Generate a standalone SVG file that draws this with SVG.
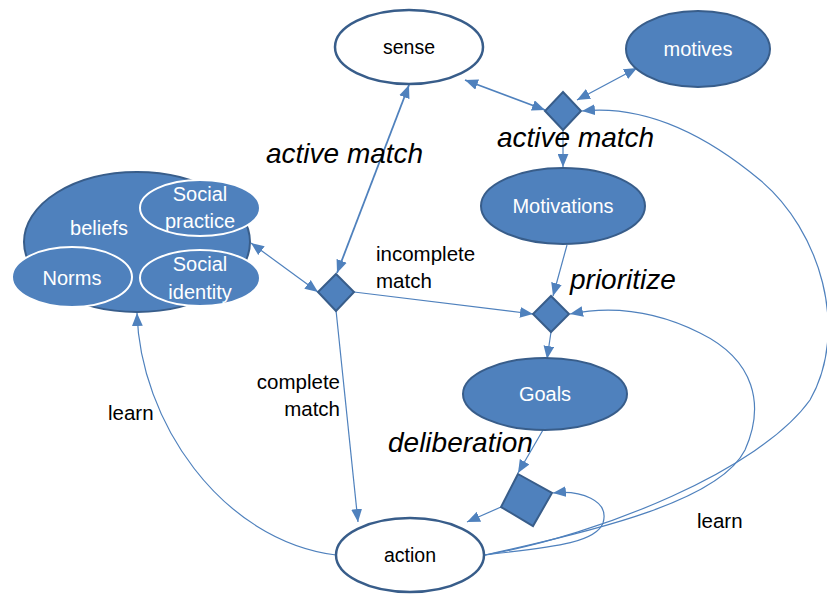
<svg xmlns="http://www.w3.org/2000/svg" width="827" height="595" viewBox="0 0 827 595">
  <style>
    .lbl { font-family: "Liberation Sans", Arial, sans-serif; font-size: 20.5px; fill: #000; }
    .wt { font-family: "Liberation Sans", Arial, sans-serif; font-size: 20px; fill: #fff; text-anchor: middle; }
    .bk { font-family: "Liberation Sans", Arial, sans-serif; font-size: 19.5px; fill: #000; text-anchor: middle; }
    .it { font-family: "Liberation Sans", Arial, sans-serif; font-size: 28px; font-style: italic; fill: #000; }
    .filled { fill: #4F81BD; stroke: #385D8A; stroke-width: 2; }
    .open { fill: #fff; stroke: #385D8A; stroke-width: 2.5; }
    .inner { fill: #4F81BD; stroke: #fff; stroke-width: 2; }
    .con { fill: none; stroke: #4F81BD; stroke-width: 1.2; }
    .thick { stroke-width: 1.8; }
  </style>
  <defs>
    <marker id="arr" viewBox="0 0 12 10" refX="12" refY="5" markerWidth="13" markerHeight="11" orient="auto-start-reverse" markerUnits="userSpaceOnUse">
      <path d="M0,0 L12,5 L0,10 z" fill="#4F81BD"/>
    </marker>
  </defs>

  <!-- connectors -->
  <g id="connectors">
    <line class="con thick" x1="465" y1="80" x2="545" y2="110" marker-start="url(#arr)" marker-end="url(#arr)"/>
    <line class="con" x1="637" y1="68" x2="577" y2="100" marker-start="url(#arr)" marker-end="url(#arr)"/>
    <line class="con" x1="563" y1="129" x2="563" y2="167" marker-end="url(#arr)"/>
    <line class="con thick" x1="409" y1="85" x2="337" y2="273" marker-start="url(#arr)" marker-end="url(#arr)"/>
    <line class="con" x1="251" y1="243" x2="318" y2="292" marker-start="url(#arr)" marker-end="url(#arr)"/>
    <line class="con" x1="354" y1="292" x2="533" y2="314" marker-end="url(#arr)"/>
    <line class="con" x1="336" y1="310" x2="358" y2="522" marker-end="url(#arr)"/>
    <line class="con" x1="567" y1="245" x2="553" y2="296" marker-end="url(#arr)"/>
    <line class="con" x1="551" y1="332" x2="547" y2="359" marker-end="url(#arr)"/>
    <line class="con" x1="543" y1="430" x2="518" y2="473" marker-end="url(#arr)"/>
    <line class="con" x1="501" y1="507" x2="467" y2="522" marker-end="url(#arr)"/>
    <path class="con" d="M336,555 C220,540 140,420 137,313" marker-end="url(#arr)"/>
    <path class="con" d="M485,555 C540,548 595,545 603,523 C610,500 580,490 553,493" marker-end="url(#arr)"/>
    <path class="con" d="M485,555 C600,530 720,500 745,450 C765,405 755,360 700,333 C660,313 615,305 570,314" marker-end="url(#arr)"/>
    <path class="con" d="M485,555 C600,535 760,470 810,400 C850,330 820,230 760,180 C700,130 640,105 582,111" marker-end="url(#arr)"/>
  </g>

  <!-- nodes -->
  <g id="sense">
    <ellipse class="open" cx="409" cy="47" rx="74" ry="37"/>
    <text class="bk" x="409" y="54">sense</text>
  </g>
  <g id="motives">
    <ellipse class="filled" cx="698" cy="49" rx="72" ry="38"/>
    <text class="wt" x="698" y="56">motives</text>
  </g>
  <g id="match-top">
    <polygon class="filled" points="563,92 581,111 563,130 545,111"/>
  </g>
  <g id="motivations">
    <ellipse class="filled" cx="563" cy="206" rx="82" ry="38"/>
    <text class="wt" x="563" y="213">Motivations</text>
  </g>
  <g id="prioritize-node">
    <polygon class="filled" points="551,296 569,314 551,332 533,314"/>
  </g>
  <g id="goals">
    <ellipse class="filled" cx="545" cy="394" rx="82" ry="36"/>
    <text class="wt" x="545" y="401">Goals</text>
  </g>
  <g id="deliberation-node">
    <polygon class="filled" points="518,474 552,493 533,526 501,507"/>
  </g>
  <g id="action">
    <ellipse class="open" cx="410" cy="555" rx="74" ry="37"/>
    <text class="bk" x="410" y="562">action</text>
  </g>
  <g id="match-left">
    <polygon class="filled" points="336,274 354,292 336,311 318,292"/>
  </g>
  <g id="beliefs">
    <ellipse class="filled" cx="137" cy="242" rx="113" ry="70"/>
    <text class="wt" x="99" y="235">beliefs</text>
    <g id="social-practice">
      <ellipse class="inner" cx="200" cy="208" rx="60" ry="28"/>
      <text class="wt" x="200" y="201">Social</text>
      <text class="wt" x="200" y="228">practice</text>
    </g>
    <g id="norms">
      <ellipse class="inner" cx="72" cy="277" rx="60" ry="30"/>
      <text class="wt" x="72" y="285">Norms</text>
    </g>
    <g id="social-identity">
      <ellipse class="inner" cx="200" cy="278" rx="60" ry="28"/>
      <text class="wt" x="200" y="271">Social</text>
      <text class="wt" x="200" y="299">identity</text>
    </g>
  </g>

  <!-- labels -->
  <g id="labels">
    <text class="it" x="266" y="163">active match</text>
    <text class="it" x="497" y="147">active match</text>
    <text class="it" x="570" y="289">prioritize</text>
    <text class="it" x="388" y="452">deliberation</text>
    <text class="lbl" x="376" y="261">incomplete</text>
    <text class="lbl" x="376" y="288">match</text>
    <text class="lbl" x="340" y="389" text-anchor="end">complete</text>
    <text class="lbl" x="340" y="416" text-anchor="end">match</text>
    <text class="lbl" x="108" y="420">learn</text>
    <text class="lbl" x="697" y="528">learn</text>
  </g>
</svg>
